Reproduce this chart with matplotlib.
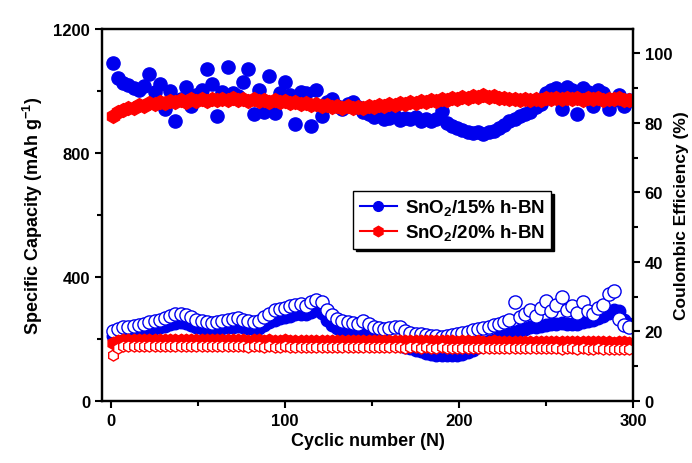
import matplotlib
matplotlib.use("Agg")
import matplotlib.pyplot as plt
from matplotlib.lines import Line2D
from matplotlib.ticker import MultipleLocator

plt.rcParams['font.family'] = ['Liberation Sans', 'DejaVu Sans']
plt.rcParams['font.weight'] = 'bold'
plt.rcParams['mathtext.fontset'] = 'custom'
plt.rcParams['mathtext.rm'] = 'Liberation Sans:bold'
plt.rcParams['mathtext.bf'] = 'Liberation Sans:bold'
plt.rcParams['mathtext.default'] = 'rm'

# Ciclos muestreados (cada 3 ciclos)
cycles = list(range(1, 300, 3))

# Eficiencia coulombica (%) - eje derecho
ce_15 = [97.3, 93.0, 91.5, 90.8, 90.0, 89.5, 90.5, 94.0, 89.0, 91.2,
         84.0, 89.2, 80.5, 87.0, 90.3, 84.9, 88.0, 89.5, 95.5, 91.2,
         82.0, 89.0, 96.0, 88.5, 87.8, 91.8, 95.5, 82.5, 89.5, 83.0,
         93.5, 82.8, 88.5, 91.8, 88.0, 79.7, 89.0, 88.5, 79.2, 89.5,
         82.0, 86.0, 86.8, 85.0, 84.0, 85.5, 86.0, 84.5, 83.0, 82.5,
         81.8, 82.3, 81.0, 81.5, 82.0, 80.8, 81.5, 81.0, 81.8, 80.5,
         81.2, 80.5, 81.0, 83.5, 80.0, 79.0, 78.5, 78.0, 77.5, 77.0,
         77.5, 76.8, 77.3, 77.8, 78.5, 79.5, 80.5, 81.0, 82.0, 82.5,
         83.0, 84.5, 85.5, 88.5, 89.5, 90.0, 84.0, 90.2, 89.5, 82.5,
         90.0, 89.0, 85.0, 89.5, 88.5, 84.0, 86.5, 88.0, 85.0, 86.5]

ce_20 = [82.0, 83.0, 83.6, 84.4, 84.2, 85.2, 84.8, 85.7, 85.3, 86.0,
         85.6, 86.4, 85.9, 86.6, 86.1, 86.8, 86.2, 86.9, 86.4, 86.9,
         86.5, 87.0, 86.6, 87.1, 86.6, 87.0, 86.4, 86.9, 86.4, 86.7,
         86.1, 86.6, 85.9, 86.3, 85.7, 86.1, 85.4, 85.8, 85.1, 85.5,
         84.8, 85.2, 84.6, 85.0, 84.4, 84.8, 84.3, 84.7, 84.4, 84.9,
         84.6, 85.1, 84.8, 85.4, 85.1, 85.7, 85.4, 86.0, 85.7, 86.2,
         86.0, 86.5, 86.2, 86.8, 86.5, 87.1, 86.9, 87.5, 87.3, 87.8,
         87.5, 88.0, 87.4, 87.6, 87.1, 87.3, 86.8, 87.0, 86.5, 86.8,
         86.5, 87.0, 86.7, 87.2, 87.0, 87.3, 86.8, 87.1, 86.8, 87.3,
         86.7, 87.2, 87.0, 87.3, 86.7, 87.0, 86.8, 87.1, 86.5, 86.6]

# Capacidad especifica (mAh/g) - eje izquierdo
cap_open_15 = [225, 232, 238, 240, 242, 245, 248, 255, 258, 262,
               268, 275, 280, 282, 278, 270, 262, 258, 255, 252,
               255, 258, 262, 265, 268, 262, 258, 255, 258, 270,
               282, 292, 298, 300, 305, 310, 312, 308, 318, 325,
               320, 295, 278, 265, 258, 255, 252, 250, 258, 248,
               240, 235, 232, 235, 240, 238, 225, 220, 216, 215,
               212, 210, 210, 208, 210, 212, 215, 220, 224, 228,
               232, 236, 240, 245, 250, 255, 262, 318, 270, 280,
               292, 275, 300, 322, 290, 310, 335, 295, 305, 285,
               318, 290, 280, 300, 310, 345, 355, 265, 245, 238]

cap_filled_15 = [210, 215, 220, 222, 224, 226, 228, 232, 235, 238,
                 242, 248, 252, 255, 252, 245, 238, 235, 232, 230,
                 232, 235, 238, 240, 242, 238, 235, 232, 235, 245,
                 255, 262, 268, 270, 275, 280, 282, 280, 288, 292,
                 285, 262, 245, 235, 228, 225, 222, 220, 218, 212,
                 205, 198, 192, 188, 185, 180, 175, 170, 165, 160,
                 156, 152, 150, 148, 148, 150, 150, 152, 158, 165,
                 175, 185, 192, 198, 205, 210, 215, 222, 228, 232,
                 238, 240, 242, 245, 248, 250, 252, 250, 248, 250,
                 255, 258, 262, 268, 275, 285, 295, 290, 260, 250]

cap_filled_20 = [188, 194, 196, 197, 197, 198, 197, 198, 197, 198,
                 197, 197, 198, 197, 196, 197, 197, 196, 197, 196,
                 196, 197, 196, 196, 197, 196, 195, 196, 196, 195,
                 196, 195, 195, 196, 195, 195, 194, 195, 195, 194,
                 195, 194, 194, 195, 194, 194, 193, 194, 194, 193,
                 194, 193, 193, 194, 193, 193, 192, 193, 193, 192,
                 193, 192, 192, 193, 192, 192, 191, 192, 192, 191,
                 192, 191, 191, 192, 191, 191, 190, 191, 191, 190,
                 191, 190, 190, 191, 190, 190, 189, 190, 190, 189,
                 190, 189, 189, 190, 189, 189, 188, 189, 189, 188]

cap_open_20 = [150, 170, 176, 178, 178, 179, 178, 179, 178, 178,
               178, 177, 178, 177, 177, 178, 177, 176, 177, 177,
               176, 177, 176, 176, 177, 176, 175, 176, 176, 175,
               176, 175, 175, 176, 175, 175, 174, 175, 175, 174,
               175, 174, 174, 175, 174, 174, 173, 174, 174, 173,
               174, 173, 173, 174, 173, 173, 172, 173, 173, 172,
               173, 172, 172, 173, 172, 172, 171, 172, 172, 171,
               172, 171, 171, 172, 171, 171, 170, 171, 171, 170,
               171, 170, 170, 171, 170, 170, 169, 170, 170, 169,
               170, 169, 169, 170, 169, 169, 168, 169, 169, 168]

labels = ['SnO$_2$/15% h-BN', 'SnO$_2$/20% h-BN']

fig = plt.figure(figsize=(6.92, 4.64), dpi=100)
ax = fig.add_axes([0.1474, 0.1336, 0.7673, 0.8017])
ax2 = ax.twinx()

# Capacidades (abajo)
ax.plot(cycles, cap_filled_15, 'o', color='#0000ee', ms=9, mec='#0000ee', ls='none')
ax.plot(cycles, cap_open_15, 'o', mfc='white', mec='#0000ee', mew=1.0, ms=9.5, ls='none')
ax.plot(cycles, cap_filled_20, 'h', color='#ff0000', ms=9, mec='#ff0000', ls='none')
ax.plot(cycles, cap_open_20, 'h', mfc='white', mec='#ff0000', mew=1.0, ms=8, ls='none')

# Eficiencia coulombica (arriba)
ax2.plot(cycles, ce_15, 'o', color='#0000ee', ms=9.5, ls='none')
ax2.plot(cycles, ce_20, 'h', color='#ff0000', ms=10, ls='none')

ax.set_xlim(-5.2, 300)
ax.set_ylim(0, 1200)
ax2.set_ylim(0, 107)

ax.set_xticks([0, 100, 200, 300])
ax.xaxis.set_minor_locator(MultipleLocator(50))
ax.set_yticks([0, 400, 800, 1200])
ax.yaxis.set_minor_locator(MultipleLocator(200))
ax2.set_yticks([0, 20, 40, 60, 80, 100])
ax2.yaxis.set_minor_locator(MultipleLocator(10))

for a in (ax, ax2):
    for s in a.spines.values():
        s.set_linewidth(1.6)
    a.tick_params(which='major', direction='out', length=5, width=1.5, labelsize=12)
    a.tick_params(which='minor', direction='out', length=3.5, width=1.5)

ax.set_xlabel('Cyclic number (N)', fontsize=13, fontweight='bold', labelpad=3)
ax.set_ylabel('Specific Capacity (mAh g$^{-1}$)', fontsize=13, fontweight='bold', labelpad=6)
ax2.set_ylabel('Coulombic Efficiency (%)', fontsize=12.5, fontweight='bold', labelpad=1)

handles = [
    Line2D([], [], color='#0000ee', marker='o', ls='-', lw=1.5, ms=7),
    Line2D([], [], color='#ff0000', marker='h', ls='-', lw=1.5, ms=7.5),
]
leg = ax2.legend(handles, labels, loc='upper left', bbox_to_anchor=(0.473, 0.565),
                 borderaxespad=0, fontsize=13.5, frameon=True, fancybox=False,
                 shadow={'color': 'black', 'alpha': 1.0},
                 edgecolor='black', framealpha=1, handlelength=2.0,
                 borderpad=0.35, labelspacing=0.25, handletextpad=0.4)
leg.get_frame().set_linewidth(1.0)

fig.savefig('out.png', dpi=100)
